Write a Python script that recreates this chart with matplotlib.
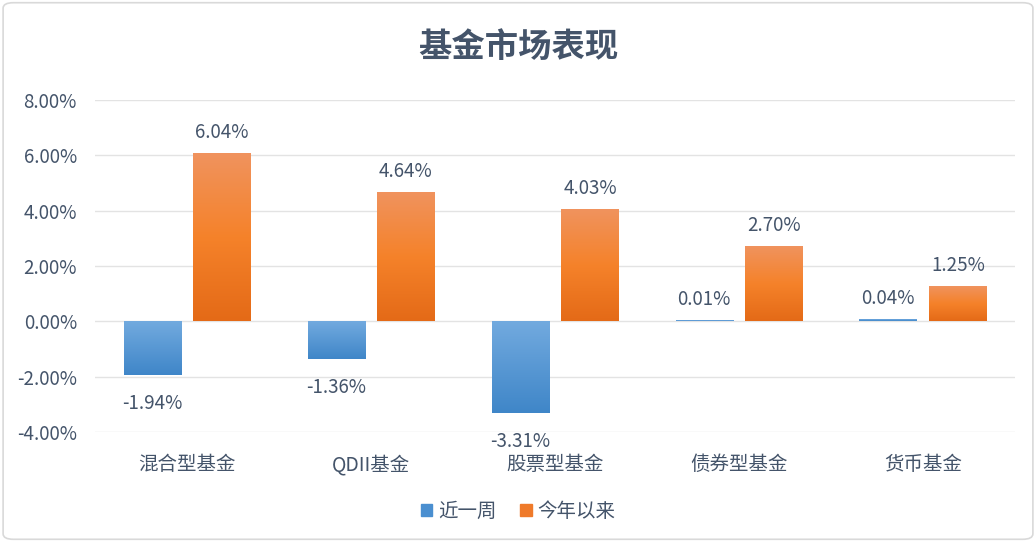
import numpy as np
import matplotlib.pyplot as plt
from matplotlib.patches import FancyBboxPatch, Patch
from matplotlib.colors import LinearSegmentedColormap
from matplotlib.ticker import FuncFormatter

plt.rcParams['font.family'] = ['Noto Sans CJK SC', 'DejaVu Sans']

categories = ['混合型基金', 'QDII基金', '股票型基金', '债券型基金', '货币基金']
week = [-1.94, -1.36, -3.31, 0.01, 0.04]
ytd = [6.04, 4.64, 4.03, 2.70, 1.25]
series_names = ['近一周', '今年以来']

text_color = '#44546a'
blue_cmap = LinearSegmentedColormap.from_list('b', ['#3f86c8', '#72aadf'])
orange_cmap = LinearSegmentedColormap.from_list('o', ['#e46a17', '#f5822a', '#f0935e'])

fig = plt.figure(figsize=(10.36, 5.42), dpi=100)
ax = fig.add_axes([0.0917, 0.203, 0.888, 0.6125])

x = np.arange(len(categories))
w = 0.31
gap = 0.035


def gradient_bars(xs, vals, cmap):
    bars = ax.bar(xs, vals, w, color='none', edgecolor='none', zorder=3)
    grad = np.linspace(0, 1, 256).reshape(-1, 1)
    for b in bars:
        x0 = b.get_x()
        y0 = min(b.get_y(), b.get_y() + b.get_height())
        y1 = max(b.get_y(), b.get_y() + b.get_height())
        if y1 - y0 <= 0:
            continue
        ax.imshow(grad, cmap=cmap, origin='lower', aspect='auto',
                  extent=[x0, x0 + b.get_width(), y0, y1], zorder=3)
    return bars


gradient_bars(x - w / 2 - gap, week, blue_cmap)
gradient_bars(x + w / 2 + gap, ytd, orange_cmap)

for xs, vals in [(x - w / 2 - gap, week), (x + w / 2 + gap, ytd)]:
    for xi, v in zip(xs, vals):
        if v >= 0:
            ax.annotate(f'{v:.2f}%', (xi, v), xytext=(0, 8), textcoords='offset points',
                        ha='center', va='bottom', fontsize=13.5, color=text_color)
        else:
            ax.annotate(f'{v:.2f}%', (xi, v), xytext=(0, -13), textcoords='offset points',
                        ha='center', va='top', fontsize=13.5, color=text_color)

ax.set_xlim(-0.5, len(categories) - 0.5)
ax.set_ylim(-4, 8)
ax.set_yticks(np.arange(-4, 8.01, 2))
ax.yaxis.set_major_formatter(FuncFormatter(lambda v, p: f'{v:.2f}%'))
ax.grid(axis='y', color='#e3e3e3', linewidth=1, zorder=0)
ax.set_axisbelow(True)
for s in ax.spines.values():
    s.set_visible(False)
ax.tick_params(axis='both', length=0, labelsize=13.5, colors=text_color)
ax.tick_params(axis='y', pad=13)
ax.tick_params(axis='x', pad=16, labelsize=14)
ax.set_xticks(x)
ax.set_xticklabels(categories)

fig.text(0.5, 0.912, '基金市场表现', ha='center', va='center', fontsize=24,
         fontweight='bold', color=text_color)

handles = [Patch(color='#4a8fd0'), Patch(color='#ef7a2a')]
fig.legend(handles, series_names, loc='center', bbox_to_anchor=(0.5, 0.057), ncol=2,
           frameon=False, fontsize=14, labelcolor=text_color, handlelength=0.6,
           handleheight=0.6, handletextpad=0.3, columnspacing=1.2)

border = FancyBboxPatch((0.003, 0.005), 0.994, 0.99, boxstyle='round,pad=0,rounding_size=0.01',
                        transform=fig.transFigure, fill=False, edgecolor='#d9d9d9', linewidth=1.2)
fig.patches.append(border)

fig.savefig('out.png', dpi=100)
